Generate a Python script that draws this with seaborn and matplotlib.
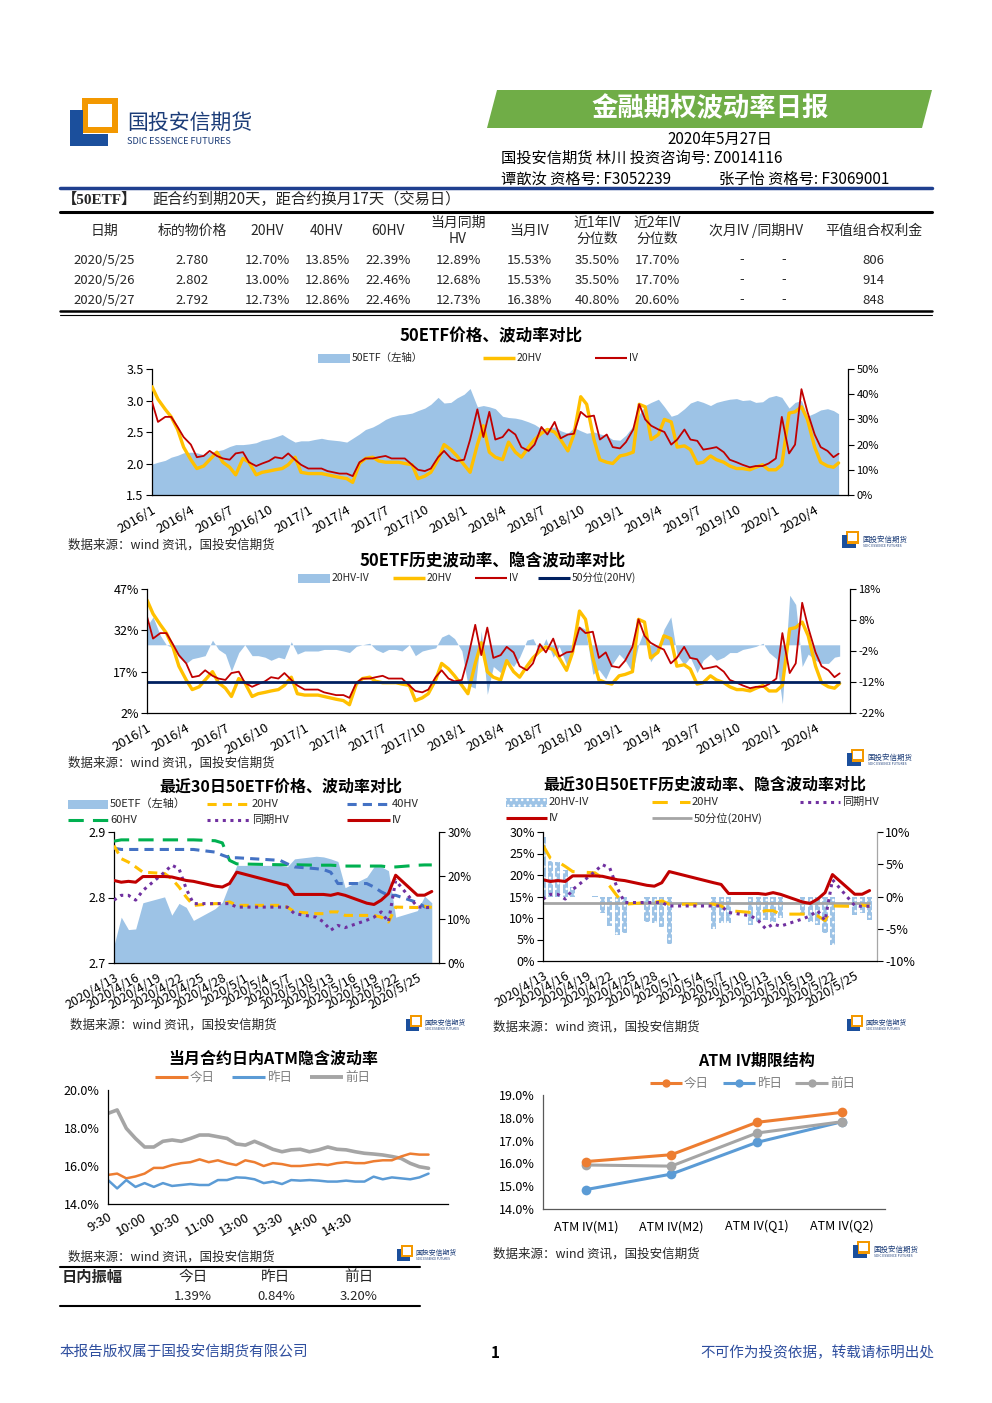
import numpy as np
import pandas as pd
import matplotlib
matplotlib.use("Agg")
import matplotlib.pyplot as plt
from matplotlib.patches import Polygon, Rectangle
from matplotlib.ticker import FuncFormatter
import seaborn as sns

sns.set_theme(style="white")
plt.rcParams['font.family'] = ['Noto Sans CJK SC', 'DejaVu Sans']
plt.rcParams['axes.unicode_minus'] = False

# ---------------- data ----------------
# 50ETF history, read every half month from the chart (last point = 2020/5/27)
hist_dates = list(pd.date_range("2016-01-01", "2020-05-15", freq="SMS")) + [pd.Timestamp("2020-05-27")]
etf_price = [1.99, 2.02, 2.05, 2.10, 2.13, 2.17, 2.18, 2.17, 2.14, 2.18,
             2.20, 2.22, 2.27, 2.30, 2.30, 2.31, 2.33, 2.37, 2.39, 2.42,
             2.46, 2.40, 2.34, 2.36, 2.36, 2.38, 2.40, 2.38, 2.37, 2.36,
             2.34, 2.40, 2.47, 2.54, 2.58, 2.63, 2.70, 2.74, 2.77, 2.78,
             2.80, 2.84, 2.88, 2.94, 3.05, 2.96, 2.97, 3.04, 3.10, 3.19,
             2.90, 2.92, 2.90, 2.87, 2.75, 2.73, 2.72, 2.70, 2.66, 2.62,
             2.55, 2.56, 2.58, 2.52, 2.48, 2.57, 2.52, 2.48, 2.50, 2.47,
             2.44, 2.38, 2.37, 2.45, 2.60, 2.78, 2.92, 2.97, 3.02, 2.90,
             2.75, 2.78, 2.87, 2.96, 3.00, 2.97, 2.92, 2.97, 3.00, 3.02,
             3.03, 3.00, 3.01, 2.97, 2.98, 3.05, 3.08, 3.05, 2.88, 2.97,
             3.00, 2.75, 2.80, 2.85, 2.87, 2.84, 2.79]
iv_hist = [37, 29, 31, 31, 27, 23, 20, 15, 15.5, 17.5,
           15.5, 14.5, 14, 16.5, 17, 13, 11.5, 12.5, 13.5, 15,
           14.5, 16.5, 14, 12, 10.5, 10.5, 10.5, 9.5, 9, 8.5,
           8.5, 7.5, 13, 14.5, 14.5, 15, 15.5, 14.5, 14.5, 14.5,
           12, 10, 9.5, 10.5, 15, 17.5, 14.5, 13.5, 14, 22,
           34, 23, 33, 22, 23, 26, 24, 19, 17.5, 20,
           27, 24, 29, 22.5, 24, 24.3, 33, 31, 31.5, 22,
           24, 19, 18.5, 21, 26, 36, 30, 27.5, 26, 25,
           20, 22, 26, 22, 21.5, 18, 18.5, 19, 17, 14,
           13, 12, 11, 11.5, 11.5, 12.5, 14.5, 31, 16.5, 20,
           42, 33, 24, 19, 17.5, 15, 16.38]
hv20_hist = [43, 38, 34, 31, 26, 19, 14, 10.5, 11.5, 14,
             17, 13, 11, 8, 14.5, 13, 8, 9, 9.5, 10,
             10.5, 12, 15, 9, 8.5, 8.5, 8.5, 8, 7.5, 7,
             6.5, 5, 12.5, 14.5, 15, 13.5, 13, 13, 13, 12.5,
             12, 6.5, 7.5, 9, 14, 20, 18, 15.5, 12, 9,
             20, 27.5, 17, 15, 14, 21, 17, 15, 19, 22,
             24.5, 26, 25, 22, 17.5, 24, 39, 36, 22, 14,
             13, 12.5, 15.5, 16, 17, 36, 35, 22, 24, 30,
             29, 19, 19.5, 18, 12.5, 13, 15.5, 14, 13, 11.5,
             10.5, 10.5, 10, 11, 12, 10, 10, 12, 32.5, 33,
             35, 30, 19, 13, 11.5, 11, 12.73]
hv20_median = 13.4

# last 30 trading days
recent_dates = ["2020-04-13", "2020-04-14", "2020-04-15", "2020-04-16", "2020-04-17",
                "2020-04-20", "2020-04-21", "2020-04-22", "2020-04-23", "2020-04-24",
                "2020-04-27", "2020-04-28", "2020-04-29", "2020-04-30", "2020-05-06",
                "2020-05-07", "2020-05-08", "2020-05-11", "2020-05-12", "2020-05-13",
                "2020-05-14", "2020-05-15", "2020-05-18", "2020-05-19", "2020-05-20",
                "2020-05-21", "2020-05-22", "2020-05-25", "2020-05-26", "2020-05-27"]
etf_30 = [2.727, 2.770, 2.751, 2.752, 2.792, 2.801, 2.773, 2.791, 2.785, 2.765,
          2.783, 2.793, 2.821, 2.849, 2.849, 2.847, 2.859, 2.863, 2.862, 2.859,
          2.855, 2.815, 2.831, 2.847, 2.847, 2.841, 2.770, 2.780, 2.802, 2.792]
hv20_30 = [26.9, 23.9, 23.1, 22.0, 20.8, 20.5, 19.3, 17.4, 15.1, 13.2,
           13.6, 13.6, 14.0, 13.2, 13.2, 12.8, 11.7, 11.3, 11.3, 11.7,
           11.7, 10.9, 10.9, 10.9, 10.5, 9.4, 12.8, 12.70, 13.00, 12.73]
hv40_30 = [26.3, 26.0, 26.0, 26.0, 26.0, 26.0, 26.0, 26.0, 26.0, 26.0,
           25.4, 24.7, 24.1, 24.1, 23.5, 22.7, 22.0, 21.6, 21.4, 20.8,
           18.2, 18.2, 18.2, 17.4, 16.3, 15.5, 15.5, 13.85, 12.86, 12.86]
hv60_30 = [27.9, 28.2, 28.2, 28.2, 28.2, 28.2, 28.2, 28.2, 28.2, 28.2,
           28.0, 27.5, 23.5, 22.7, 22.5, 22.5, 22.5, 22.4, 22.4, 22.4,
           22.3, 22.2, 22.2, 22.2, 22.2, 22.0, 22.0, 22.39, 22.46, 22.46]
hv_same_30 = [14.4, 15.5, 15.5, 14.4, 16.6, 20.8, 22.4, 21.6, 17.0, 13.6,
              13.6, 13.6, 13.6, 12.8, 12.8, 12.8, 11.3, 10.5, 9.4, 7.5,
              8.6, 8.1, 9.8, 10.5, 11.7, 9.4, 18.9, 12.89, 12.68, 12.73]
iv_30 = [18.9, 18.5, 18.7, 18.5, 19.8, 19.8, 19.7, 19.3, 18.9, 18.7,
         17.6, 17.4, 18.2, 20.8, 18.2, 17.8, 15.7, 15.7, 15.7, 15.5,
         15.9, 15.5, 13.7, 13.4, 14.4, 15.9, 20.1, 15.53, 15.53, 16.38]
hv_iv_30 = [9.2, 5.5, 5.3, 4.1, 1.5, 0.1, -2.6, -4.5, -6.0, -5.7,
            -4.0, -4.1, -4.8, -7.4, -5.1, -4.1, -4.1, -4.4, -4.0, -3.6,
            -4.0, -3.4, -2.8, -4.0, -4.4, -5.7, -7.5, -2.8, -2.5, -3.65]

# intraday ATM IV (category index, label every 30)
minute_idx = list(range(0, 288, 8))
time_labels = ["9:30", "10:00", "10:30", "11:00", "13:00", "13:30", "14:00", "14:30"]
iv_today = [15.53, 15.6, 15.35, 15.45, 15.6, 15.9, 15.9, 16.05, 16.15, 16.2,
            16.35, 16.2, 16.3, 16.15, 16.05, 16.3, 16.2, 16.0, 16.15, 16.1,
            16.0, 16.0, 16.05, 16.1, 16.05, 16.15, 16.2, 16.15, 16.15, 16.25,
            16.3, 16.3, 16.5, 16.65, 16.6, 16.6]
iv_yday = [15.26, 14.82, 15.26, 14.9, 15.1, 14.9, 15.1, 14.95, 15.0, 15.05,
           15.0, 15.0, 15.26, 15.26, 15.4, 15.38, 15.3, 15.1, 15.18, 15.05,
           15.26, 15.23, 15.26, 15.23, 15.18, 15.18, 15.23, 15.18, 15.18, 15.44,
           15.3, 15.4, 15.35, 15.3, 15.4, 15.6]
iv_prev = [18.77, 18.95, 17.98, 17.45, 17.0, 17.0, 17.3, 17.37, 17.3, 17.45,
           17.63, 17.63, 17.54, 17.45, 17.16, 17.1, 17.3, 17.1, 16.88, 16.75,
           16.85, 16.88, 16.75, 16.85, 17.0, 16.88, 16.85, 16.75, 16.67, 16.63,
           16.58, 16.5, 16.4, 16.14, 15.96, 15.88]

# term structure
term_labels = ["ATM IV(M1)", "ATM IV(M2)", "ATM IV(Q1)", "ATM IV(Q2)"]
term_today = [16.08, 16.38, 17.80, 18.24]
term_yday = [14.85, 15.53, 16.92, 17.83]
term_prev = [15.93, 15.88, 17.33, 17.83]

# summary table
table_heads = ["日期", "标的物价格", "20HV", "40HV", "60HV", "当月同期\nHV", "当月IV",
               "近1年IV\n分位数", "近2年IV\n分位数", "次月IV /同期HV", "平值组合权利金"]
table_rows = [["2020/5/25", "2.780", "12.70%", "13.85%", "22.39%", "12.89%", "15.53%", "35.50%", "17.70%", "806"],
              ["2020/5/26", "2.802", "13.00%", "12.86%", "22.46%", "12.68%", "15.53%", "35.50%", "17.70%", "914"],
              ["2020/5/27", "2.792", "12.73%", "12.86%", "22.46%", "12.73%", "16.38%", "40.80%", "20.60%", "848"]]
amp_labels = ["今日", "昨日", "前日"]
amp_values = ["1.39%", "0.84%", "3.20%"]

# colours
C_AREA = "#9DC3E6"
C_HV20 = "#FFC000"
C_IV = "#C00000"
C_NAVY = "#002060"
C_HV40 = "#4472C4"
C_HV60 = "#00B050"
C_SAME = "#7030A0"
C_GRAY = "#A5A5A5"
C_ORANGE = "#ED7D31"
C_BLUE = "#5B9BD5"

W, H = 992, 1403
fig = plt.figure(figsize=(W / 100, H / 100), dpi=100)
bg = fig.add_axes([0, 0, 1, 1])
bg.set_xlim(0, W)
bg.set_ylim(H, 0)
bg.axis('off')


def box(x0, y0, x1, y1):
    return [x0 / W, 1 - y1 / H, (x1 - x0) / W, (y1 - y0) / H]


def pct(dec=0):
    return FuncFormatter(lambda v, p: f"{v:.{dec}f}%")


def excel_axis(ax, show, color='black', size=8.5):
    for side in ['left', 'right', 'top', 'bottom']:
        ax.spines[side].set_visible(side in show)
        ax.spines[side].set_color(color)
        ax.spines[side].set_linewidth(0.9)
    ax.tick_params(direction='out', length=4, width=0.8, color=color,
                   labelcolor='black', labelsize=size, pad=2)
    ax.set_facecolor('none')
    ax.grid(False)
    ax.set_xlabel('')
    ax.set_ylabel('')


def logo(x, y, s, text=True):
    # x, y = top-left corner of the mark in pixels
    def r(a, b, c, d, col):
        bg.add_patch(Rectangle((x + a * s, y + b * s), (c - a) * s, (d - b) * s,
                               color=col, lw=0))
    r(12, 0, 48, 35, "#F39800")
    r(18, 6, 42, 29, "white")
    r(0, 12, 13, 48, "#1B4F9C")
    r(0, 36, 38, 48, "#1B4F9C")
    if text:
        bg.text(x + 57 * s, y + 25 * s, "国投安信期货", fontsize=15 * s, color="#1B3C78",
                va='center', ha='left')
        bg.text(x + 57 * s, y + 43 * s, "SDIC ESSENCE FUTURES", fontsize=6.6 * s,
                color="#1B3C78", va='center', ha='left')


def leg_line(x0, x1, y, label, color, lw=2.0, ls='-', size=7.5, tcolor='#262626', marker=None):
    bg.plot([x0, x1], [y, y], color=color, lw=lw, ls=ls, solid_capstyle='butt',
            dash_capstyle='butt')
    if marker:
        bg.plot([(x0 + x1) / 2], [y], marker=marker, color=color, ms=6, mew=0)
    bg.text(x1 + 2, y, label, fontsize=size, color=tcolor, va='center', ha='left')


def leg_patch(x0, x1, y, label, color, hatch=None, size=7.5, tcolor='#262626'):
    bg.add_patch(Rectangle((x0, y - 4.5), x1 - x0, 9, facecolor=color,
                           edgecolor='white' if hatch else color, hatch=hatch, lw=0))
    bg.text(x1 + 2, y, label, fontsize=size, color=tcolor, va='center', ha='left')


def source(x, y):
    bg.text(x, y, "数据来源：wind 资讯，国投安信期货", fontsize=9, color='#262626',
            va='center', ha='left')


def title(x, y, s, size=12):
    bg.text(x, y, s, fontsize=size, fontweight='bold', color='black', ha='center', va='center')


def date_label(d):
    return f"{d.year}/{d.month}"


# ---------------- header ----------------
logo(70, 98, 1.0)
bg.add_patch(Polygon([(487, 128), (497, 90), (932, 90), (922, 128)], closed=True,
                     color="#70AD47", lw=0))
bg.text(710, 109, "金融期权波动率日报", fontsize=19, fontweight='bold', color='white',
        ha='center', va='center')
bg.text(720, 139, "2020年5月27日", fontsize=11, ha='center', va='center', color='black')
bg.text(501, 158, "国投安信期货 林川 投资咨询号: Z0014116", fontsize=11, ha='left',
        va='center', color='black')
bg.text(501, 179, "谭歆汝 资格号: F3052239", fontsize=11, ha='left', va='center', color='black')
bg.text(719, 179, "张子怡 资格号: F3069001", fontsize=11, ha='left', va='center', color='black')
bg.plot([60, 932], [188, 188], color="#1F3F8F", lw=2.5)
bg.text(62, 200, "【50ETF】", fontsize=11, fontweight='bold', ha='left', va='center',
        family=['Liberation Serif', 'Noto Sans CJK SC'])
bg.text(152, 199, "距合约到期20天，距合约换月17天（交易日）", fontsize=11, ha='left', va='center')
bg.plot([60, 932], [212, 212], color='black', lw=2.2)

head_x = [104, 192, 267, 326, 388, 458, 529, 597, 657, 756, 874]
for hx, ht in zip(head_x, table_heads):
    bg.text(hx, 231, ht, fontsize=10, ha='center', va='center', linespacing=1.15)
row_x = [104, 192, 267, 327, 388, 458, 529, 597, 657, 873]
for ri, row in enumerate(table_rows):
    ry = 260 + ri * 20
    for rx, val in zip(row_x, row):
        bg.text(rx, ry, val, fontsize=9.5, ha='center', va='center', color='#262626')
    bg.text(742, ry, "-", fontsize=9.5, ha='center', va='center', color='#262626')
    bg.text(784, ry, "-", fontsize=9.5, ha='center', va='center', color='#262626')
bg.plot([60, 932], [311, 311], color='black', lw=1.8)
bg.plot([60, 932], [314.5, 314.5], color='black', lw=0.8)

# ---------------- chart 1: price & vol ----------------
title(491, 336, "50ETF价格、波动率对比")
leg_patch(318, 350, 358, "50ETF（左轴）", C_AREA)
leg_line(483, 515, 358, "20HV", C_HV20, lw=2.5)
leg_line(595, 627, 358, "IV", C_IV, lw=1.5)

ax1 = fig.add_axes(box(152, 369, 848, 495))
ax1.fill_between(hist_dates, 1.5, etf_price, color=C_AREA, lw=0)
ax1.set_ylim(1.5, 3.5)
ax1.set_yticks([1.5, 2.0, 2.5, 3.0, 3.5])
ax1.yaxis.set_major_formatter(FuncFormatter(lambda v, p: f"{v:.1f}"))
ax1r = ax1.twinx()
sns.lineplot(x=hist_dates, y=hv20_hist, ax=ax1r, color=C_HV20, lw=2.4)
sns.lineplot(x=hist_dates, y=iv_hist, ax=ax1r, color=C_IV, lw=1.3)
ax1r.set_ylim(0, 50)
ax1r.set_yticks(range(0, 51, 10))
ax1r.yaxis.set_major_formatter(pct())
xt = pd.date_range("2016-01-01", "2020-04-01", freq="QS")
for a in (ax1, ax1r):
    a.set_xlim(pd.Timestamp("2016-01-01"), pd.Timestamp("2020-06-18"))
excel_axis(ax1, ('left', 'bottom'), size=9)
excel_axis(ax1r, ('right',), size=8)
ax1.set_xticks(xt)
ax1.set_xticklabels([date_label(d) for d in xt], rotation=30, ha='right',
                    rotation_mode='anchor', fontsize=9.5)
source(68, 545)
logo(842, 531, 0.36)

# ---------------- chart 2: HV vs IV history ----------------
title(493, 561, "50ETF历史波动率、隐含波动率对比")
leg_patch(298, 330, 578, "20HV-IV", C_AREA)
leg_line(393, 425, 578, "20HV", C_HV20, lw=2.5)
leg_line(475, 507, 578, "IV", C_IV, lw=1.5)
leg_line(538, 570, 578, "50分位(20HV)", C_NAVY, lw=2.2)

hv_minus_iv = np.array(hv20_hist) - np.array(iv_hist)
ax2 = fig.add_axes(box(147, 589, 850, 713))
ax2.fill_between(hist_dates, 0, hv_minus_iv, color=C_AREA, lw=0)
ax2.set_ylim(-22, 18)
ax2.set_yticks(range(-22, 19, 10))
ax2.yaxis.set_major_formatter(pct())
ax2l = ax2.twinx()
sns.lineplot(x=hist_dates, y=hv20_hist, ax=ax2l, color=C_HV20, lw=2.4)
sns.lineplot(x=hist_dates, y=iv_hist, ax=ax2l, color=C_IV, lw=1.3)
ax2l.hlines(hv20_median, hist_dates[0], hist_dates[-1], color=C_NAVY, lw=2.0)
ax2l.set_ylim(2, 47)
ax2l.set_yticks([2, 17, 32, 47])
ax2l.yaxis.set_major_formatter(pct())
for a in (ax2, ax2l):
    a.set_xlim(pd.Timestamp("2016-01-01"), pd.Timestamp("2020-06-20"))
excel_axis(ax2, ('right', 'bottom'), size=8)
excel_axis(ax2l, ('left',), size=9)
ax2.yaxis.tick_right()
ax2l.yaxis.tick_left()
ax2.set_xticks(xt)
ax2.set_xticklabels([date_label(d) for d in xt], rotation=30, ha='right',
                    rotation_mode='anchor', fontsize=9.5)
source(68, 763)
logo(847, 749, 0.36)

# ---------------- chart 3: last 30 days price & vols ----------------
rd = pd.to_datetime(recent_dates)
rticks = pd.date_range("2020-04-13", "2020-05-28", freq="3D")
rlabels = [f"{d.year}/{d.month}/{d.day}" for d in rticks[:-1]] + [""]

title(281, 787, "最近30日50ETF价格、波动率对比", size=11.5)
leg_patch(68, 108, 804, "50ETF（左轴）", C_AREA, size=8)
leg_line(207, 250, 804, "20HV", C_HV20, lw=2.2, ls=(0, (3, 2)), size=8)
leg_line(347, 390, 804, "40HV", C_HV40, lw=2.2, ls=(0, (3, 2)), size=8)
leg_line(68, 108, 820, "60HV", C_HV60, lw=2.2, ls=(0, (5, 3)), size=8)
leg_line(207, 250, 820, "同期HV", C_SAME, lw=2.2, ls=(0, (1, 1.5)), size=8)
leg_line(347, 390, 820, "IV", C_IV, lw=2.2, size=8)

ax3 = fig.add_axes(box(114, 832, 439, 963))
ax3.fill_between(rd, 2.7, etf_30, color=C_AREA, lw=0)
ax3.set_ylim(2.7, 2.9)
ax3.set_yticks([2.7, 2.8, 2.9])
ax3.yaxis.set_major_formatter(FuncFormatter(lambda v, p: f"{v:.1f}"))
ax3r = ax3.twinx()
sns.lineplot(x=rd, y=hv60_30, ax=ax3r, color=C_HV60, lw=2.2, linestyle=(0, (5, 3)))
sns.lineplot(x=rd, y=hv40_30, ax=ax3r, color=C_HV40, lw=2.2, linestyle=(0, (3, 2)))
sns.lineplot(x=rd, y=hv20_30, ax=ax3r, color=C_HV20, lw=2.2, linestyle=(0, (3, 2)))
sns.lineplot(x=rd, y=hv_same_30, ax=ax3r, color=C_SAME, lw=2.2, linestyle=(0, (1, 1.5)))
sns.lineplot(x=rd, y=iv_30, ax=ax3r, color=C_IV, lw=2.2)
ax3r.set_ylim(0, 30)
ax3r.set_yticks([0, 10, 20, 30])
ax3r.yaxis.set_major_formatter(pct())
for a in (ax3, ax3r):
    a.set_xlim(pd.Timestamp("2020-04-13"), pd.Timestamp("2020-05-28"))
excel_axis(ax3, ('left', 'bottom'), size=9)
excel_axis(ax3r, ('right',), size=8.5)
ax3.set_xticks(rticks)
ax3.set_xticklabels(rlabels, rotation=30, ha='right', rotation_mode='anchor', fontsize=9)
source(70, 1025)
logo(406, 1015, 0.33)

# ---------------- chart 4: last 30 days HV vs IV ----------------
title(705, 785, "最近30日50ETF历史波动率、隐含波动率对比", size=11.5)
leg_patch(506, 547, 802, "20HV-IV", C_AREA, hatch='...', size=8)
leg_line(652, 690, 802, "20HV", C_HV20, lw=2.2, ls=(0, (5, 4)), size=8)
leg_line(800, 840, 802, "同期HV", C_SAME, lw=2.2, ls=(0, (1, 1.5)), size=8)
leg_line(506, 547, 818, "IV", C_IV, lw=2.2, size=8)
leg_line(652, 692, 818, "50分位(20HV)", C_GRAY, lw=2.0, size=8)

ax4 = fig.add_axes(box(543, 832, 877, 961))
ax4.bar(rd, hv_iv_30, width=0.7, facecolor=C_AREA, edgecolor='white', hatch='...', lw=0)
ax4.set_ylim(-10, 10)
ax4.set_yticks([-10, -5, 0, 5, 10])
ax4.yaxis.set_major_formatter(pct())
ax4l = ax4.twinx()
ax4l.hlines(hv20_median, rd[0], rd[-1], color=C_GRAY, lw=2.0)
sns.lineplot(x=rd, y=hv20_30, ax=ax4l, color=C_HV20, lw=2.2, linestyle=(0, (5, 4)))
sns.lineplot(x=rd, y=hv_same_30, ax=ax4l, color=C_SAME, lw=2.2, linestyle=(0, (1, 1.5)))
sns.lineplot(x=rd, y=iv_30, ax=ax4l, color=C_IV, lw=2.2)
ax4l.set_ylim(0, 30)
ax4l.set_yticks(range(0, 31, 5))
ax4l.yaxis.set_major_formatter(pct())
for a in (ax4, ax4l):
    a.set_xlim(pd.Timestamp("2020-04-13"), pd.Timestamp("2020-05-28"))
excel_axis(ax4, ('right', 'bottom'), size=9)
ax4.spines['right'].set_color('#A6A6A6')
excel_axis(ax4l, ('left',), size=9)
ax4.yaxis.tick_right()
ax4l.yaxis.tick_left()
ax4.set_xticks(rticks)
ax4.set_xticklabels(rlabels, rotation=30, ha='right', rotation_mode='anchor', fontsize=9)
source(493, 1027)
logo(847, 1015, 0.33)

# ---------------- chart 5: intraday ATM IV ----------------
title(273, 1059, "当月合约日内ATM隐含波动率", size=11.5)
leg_line(155, 188, 1077, "今日", C_ORANGE, lw=2.2, size=9, tcolor='#7F7F7F')
leg_line(232, 265, 1077, "昨日", C_BLUE, lw=2.2, size=9, tcolor='#7F7F7F')
leg_line(310, 343, 1077, "前日", C_GRAY, lw=2.8, size=9, tcolor='#7F7F7F')

ax5 = fig.add_axes(box(108, 1090, 448, 1204))
sns.lineplot(x=minute_idx, y=iv_prev, ax=ax5, color=C_GRAY, lw=2.6)
sns.lineplot(x=minute_idx, y=iv_today, ax=ax5, color=C_ORANGE, lw=1.8)
sns.lineplot(x=minute_idx, y=iv_yday, ax=ax5, color=C_BLUE, lw=1.8)
ax5.set_ylim(14, 20)
ax5.set_yticks([14, 16, 18, 20])
ax5.yaxis.set_major_formatter(pct(1))
ax5.set_xlim(0, 297)
excel_axis(ax5, ('left', 'bottom'), size=9)
ax5.set_xticks(range(0, 211, 30))
ax5.set_xticklabels(time_labels, rotation=30, ha='right', rotation_mode='anchor', fontsize=9.5)
ax5.tick_params(axis='x', length=0, pad=5)
ax5.set_xticks(range(0, 297, 60), minor=True)
ax5.tick_params(axis='x', which='minor', direction='out', length=4, width=0.8, color='black')
source(68, 1257)
logo(397, 1245, 0.33)

bg.plot([60, 420], [1267, 1267], color='black', lw=1.5)
bg.text(62, 1277, "日内振幅", fontsize=11, fontweight='bold', ha='left', va='center')
for ax_x, lab, val in zip([193, 276, 359], amp_labels, amp_values):
    bg.text(ax_x, 1277, lab, fontsize=10.5, ha='center', va='center', color='#262626')
    bg.text(ax_x, 1296, val, fontsize=9.5, ha='center', va='center', color='#262626')
bg.plot([60, 420], [1306, 1306], color='black', lw=1.5)

# ---------------- chart 6: term structure ----------------
title(757, 1061, "ATM IV期限结构", size=11.5)
leg_line(650, 682, 1083, "今日", C_ORANGE, lw=2.2, size=9, tcolor='#7F7F7F', marker='o')
leg_line(723, 755, 1083, "昨日", C_BLUE, lw=2.2, size=9, tcolor='#7F7F7F', marker='o')
leg_line(795, 828, 1083, "前日", C_GRAY, lw=2.2, size=9, tcolor='#7F7F7F', marker='o')

ax6 = fig.add_axes(box(543, 1095, 885, 1209))
term_x = list(range(len(term_labels)))
sns.lineplot(x=term_x, y=term_yday, ax=ax6, color=C_BLUE, lw=2.2, marker='o', ms=7, mew=0)
sns.lineplot(x=term_x, y=term_prev, ax=ax6, color=C_GRAY, lw=2.2, marker='o', ms=7, mew=0)
sns.lineplot(x=term_x, y=term_today, ax=ax6, color=C_ORANGE, lw=2.2, marker='o', ms=7, mew=0)
ax6.set_ylim(14, 19)
ax6.set_yticks(range(14, 20))
ax6.yaxis.set_major_formatter(pct(1))
ax6.set_xlim(-0.5, 3.5)
excel_axis(ax6, ('left', 'bottom'), color='#595959', size=9)
ax6.set_xticks(term_x)
ax6.set_xticklabels(term_labels, fontsize=9)
ax6.tick_params(axis='x', length=0, pad=8)
ax6.set_xticks([-0.5, 0.5, 1.5, 2.5, 3.5], minor=True)
ax6.tick_params(axis='x', which='minor', direction='out', length=4, width=0.8, color='#595959')
source(493, 1254)
logo(853, 1241, 0.36)

# ---------------- footer ----------------
bg.text(60, 1353, "本报告版权属于国投安信期货有限公司", fontsize=10.5, color="#2E4E9E",
        ha='left', va='center')
bg.text(495, 1353, "1", fontsize=11, fontweight='bold', color='black', ha='center', va='center')
bg.text(934, 1353, "不可作为投资依据，转载请标明出处", fontsize=10.5, color="#2E4E9E",
        ha='right', va='center')

fig.savefig("out.png", dpi=100)
